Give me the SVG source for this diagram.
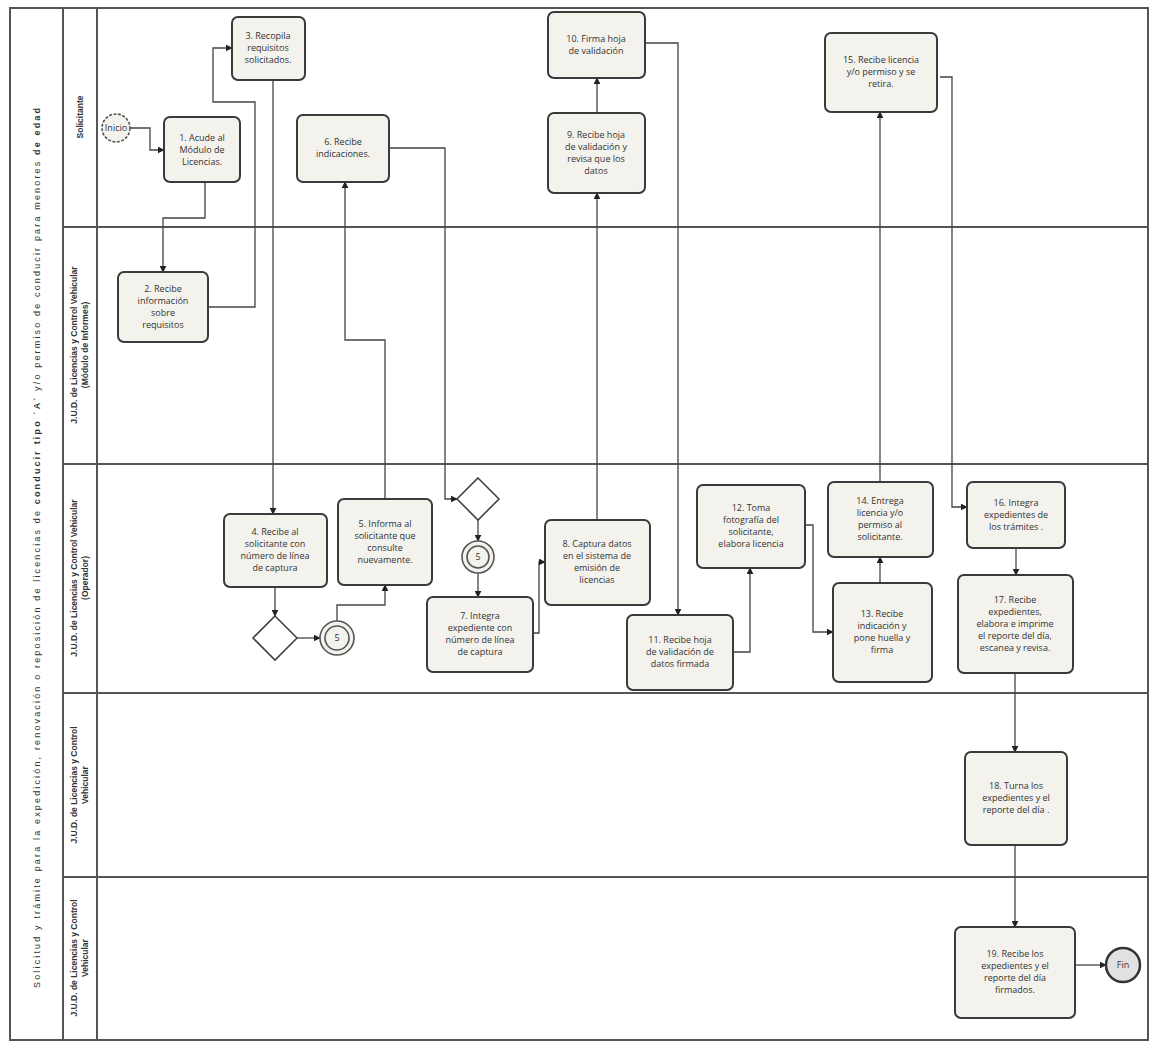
<svg xmlns="http://www.w3.org/2000/svg" width="1152" height="1051" viewBox="0 0 1152 1051">
<defs>
<style>
.frame{fill:none;stroke:#555;stroke-width:2}
.lane{stroke:#555;stroke-width:2}
.box{fill:#f3f2ed;stroke:#3a3a3a;stroke-width:2}
.bt{font-family:"Open Sans","Liberation Sans",sans-serif;font-size:9px;fill:#333;text-anchor:middle}
.lt{font-family:"Liberation Sans",sans-serif;font-size:8.5px;fill:#333;text-anchor:middle;font-weight:bold}
.tt{font-family:"Liberation Sans",sans-serif;font-size:9px;fill:#333;text-anchor:middle}
.con{fill:none;stroke:#444;stroke-width:1.3;marker-end:url(#arr)}
.gw{fill:#fff;stroke:#444;stroke-width:1.6}
.ev{fill:#f3f2ed;stroke:#555;stroke-width:1.6}
</style>
<marker id="arr" viewBox="0 0 10 10" refX="9" refY="5" markerWidth="7" markerHeight="7" markerUnits="userSpaceOnUse" orient="auto">
<path d="M0,0 L10,5 L0,10 z" fill="#222"/>
</marker>
</defs>
<rect width="1152" height="1051" fill="#fff"/>
<g id="pool">
<rect class="frame" x="10" y="8" width="1138" height="1032"/>
<line class="lane" x1="63" y1="8" x2="63" y2="1040"/>
<line class="lane" x1="97" y1="8" x2="97" y2="1040"/>
<line class="lane" x1="63" y1="227" x2="1148" y2="227"/>
<line class="lane" x1="63" y1="464" x2="1148" y2="464"/>
<line class="lane" x1="63" y1="693" x2="1148" y2="693"/>
<line class="lane" x1="63" y1="877" x2="1148" y2="877"/>
<text class="tt" transform="translate(40,548) rotate(-90)" textLength="880" lengthAdjust="spacing">Solicitud y trámite para la expedición, renovación o reposición de licencias de <tspan font-weight="bold">conducir tipo ´A´</tspan> y/o permiso de conducir para menores <tspan font-weight="bold">de edad</tspan></text>
<text class="lt" transform="translate(83,117) rotate(-90)">Solicitante</text>
<text class="lt" transform="translate(80,345) rotate(-90)"><tspan x="0" y="-3">J.U.D. de Licencias y Control Vehicular</tspan><tspan x="0" y="8">(Módulo de Informes)</tspan></text>
<text class="lt" transform="translate(80,578) rotate(-90)"><tspan x="0" y="-3">J.U.D. de Licencias y Control Vehicular</tspan><tspan x="0" y="8">(Operador)</tspan></text>
<text class="lt" transform="translate(80,785) rotate(-90)"><tspan x="0" y="-3">J.U.D. de Licencias y Control</tspan><tspan x="0" y="8">Vehicular</tspan></text>
<text class="lt" transform="translate(80,958) rotate(-90)"><tspan x="0" y="-3">J.U.D. de Licencias y Control</tspan><tspan x="0" y="8">Vehicular</tspan></text>
</g>
<g id="connectors">
<path class="con" d="M130,128 H150 V150 H164"/>
<path class="con" d="M205,182 V218 H163 V272"/>
<path class="con" d="M208,307 H255 V102 H213 V48 H232"/>
<path class="con" d="M273,80 V514"/>
<path class="con" d="M275,587 V616"/>
<path class="con" d="M297,638 H320"/>
<path class="con" d="M337,621 V605 H385 V585"/>
<path class="con" d="M385,499 V340 H345 V182"/>
<path class="con" d="M389,148 H445 V499 H457"/>
<path class="con" d="M478,520 V541"/>
<path class="con" d="M478,573 V597"/>
<path class="con" d="M533,633 H539 V562 H545"/>
<path class="con" d="M597,520 V193"/>
<path class="con" d="M597,113 V78"/>
<path class="con" d="M645,43 H678 V615"/>
<path class="con" d="M733,652 H750 V568"/>
<path class="con" d="M805,525 H813 V632 H833"/>
<path class="con" d="M880,583 V557"/>
<path class="con" d="M880,482 V112"/>
<path class="con" d="M940,77 H952 V507 H967"/>
<path class="con" d="M1016,548 V575"/>
<path class="con" d="M1015,673 V752"/>
<path class="con" d="M1015,845 V927"/>
<path class="con" d="M1075,965 H1106"/>
</g>
<g id="inicio">
<circle class="ev" cx="116" cy="128" r="14" stroke-dasharray="3,1.5"/>
<text class="bt" x="116" y="130.5" font-size="7">Inicio</text>
</g>
<g id="n1"><rect class="box" x="164" y="117" width="76" height="65" rx="6"/>
<text class="bt"><tspan x="202" y="141">1. Acude al</tspan><tspan x="202" y="153">Módulo de</tspan><tspan x="202" y="165">Licencias.</tspan></text></g>
<g id="n2"><rect class="box" x="118" y="272" width="90" height="70" rx="6"/>
<text class="bt"><tspan x="163" y="292">2. Recibe</tspan><tspan x="163" y="304">información</tspan><tspan x="163" y="316">sobre</tspan><tspan x="163" y="328">requisitos</tspan></text></g>
<g id="n3"><rect class="box" x="232" y="17" width="73" height="63" rx="6"/>
<text class="bt"><tspan x="268" y="39">3. Recopila</tspan><tspan x="268" y="51">requisitos</tspan><tspan x="268" y="63">solicitados.</tspan></text></g>
<g id="n4"><rect class="box" x="224" y="514" width="103" height="73" rx="6"/>
<text class="bt"><tspan x="275" y="535">4. Recibe al</tspan><tspan x="275" y="547">solicitante con</tspan><tspan x="275" y="559">número de línea</tspan><tspan x="275" y="571">de captura</tspan></text></g>
<g id="g1"><path class="gw" d="M275,616 L297,638 L275,660 L253,638 z"/></g>
<g id="link1"><circle class="ev" cx="337" cy="638" r="17"/><circle class="ev" cx="337" cy="638" r="12"/>
<text class="bt" x="337" y="641">5</text></g>
<g id="n5"><rect class="box" x="338" y="499" width="94" height="86" rx="6"/>
<text class="bt"><tspan x="385" y="527">5. Informa al</tspan><tspan x="385" y="539">solicitante que</tspan><tspan x="385" y="551">consulte</tspan><tspan x="385" y="563">nuevamente.</tspan></text></g>
<g id="n6"><rect class="box" x="297" y="115" width="92" height="67" rx="6"/>
<text class="bt"><tspan x="343" y="145">6. Recibe</tspan><tspan x="343" y="157">indicaciones.</tspan></text></g>
<g id="g2"><path class="gw" d="M478,478 L499,499 L478,520 L457,499 z"/></g>
<g id="link2"><circle class="ev" cx="478" cy="557" r="16"/><circle class="ev" cx="478" cy="557" r="11"/>
<text class="bt" x="478" y="560">5</text></g>
<g id="n7"><rect class="box" x="427" y="597" width="106" height="75" rx="6"/>
<text class="bt"><tspan x="480" y="619">7. Integra</tspan><tspan x="480" y="631">expediente con</tspan><tspan x="480" y="643">número de línea</tspan><tspan x="480" y="655">de captura</tspan></text></g>
<g id="n8"><rect class="box" x="545" y="520" width="105" height="85" rx="6"/>
<text class="bt"><tspan x="597" y="547">8. Captura datos</tspan><tspan x="597" y="559">en el sistema de</tspan><tspan x="597" y="571">emisión de</tspan><tspan x="597" y="583">licencias</tspan></text></g>
<g id="n9"><rect class="box" x="548" y="113" width="97" height="80" rx="6"/>
<text class="bt"><tspan x="596" y="138">9. Recibe hoja</tspan><tspan x="596" y="150">de validación y</tspan><tspan x="596" y="162">revisa que los</tspan><tspan x="596" y="174">datos</tspan></text></g>
<g id="n10"><rect class="box" x="548" y="12" width="97" height="66" rx="6"/>
<text class="bt"><tspan x="596" y="42">10. Firma hoja</tspan><tspan x="596" y="54">de validación</tspan></text></g>
<g id="n11"><rect class="box" x="627" y="615" width="106" height="75" rx="6"/>
<text class="bt"><tspan x="680" y="643">11. Recibe hoja</tspan><tspan x="680" y="655">de validación de</tspan><tspan x="680" y="667">datos firmada</tspan></text></g>
<g id="n12"><rect class="box" x="697" y="485" width="108" height="83" rx="6"/>
<text class="bt"><tspan x="751" y="511">12. Toma</tspan><tspan x="751" y="523">fotografía del</tspan><tspan x="751" y="535">solicitante,</tspan><tspan x="751" y="547">elabora licencia</tspan></text></g>
<g id="n13"><rect class="box" x="833" y="583" width="99" height="99" rx="6"/>
<text class="bt"><tspan x="882" y="617">13. Recibe</tspan><tspan x="882" y="629">indicación y</tspan><tspan x="882" y="641">pone huella y</tspan><tspan x="882" y="653">firma</tspan></text></g>
<g id="n14"><rect class="box" x="828" y="482" width="105" height="75" rx="6"/>
<text class="bt"><tspan x="880" y="504">14. Entrega</tspan><tspan x="880" y="516">licencia y/o</tspan><tspan x="880" y="528">permiso al</tspan><tspan x="880" y="540">solicitante.</tspan></text></g>
<g id="n15"><rect class="box" x="825" y="33" width="112" height="79" rx="6"/>
<text class="bt"><tspan x="881" y="63">15. Recibe licencia</tspan><tspan x="881" y="75">y/o permiso y se</tspan><tspan x="881" y="87">retira.</tspan></text></g>
<g id="n16"><rect class="box" x="967" y="482" width="98" height="66" rx="6"/>
<text class="bt"><tspan x="1016" y="506">16. Integra</tspan><tspan x="1016" y="518">expedientes de</tspan><tspan x="1016" y="530">los trámites .</tspan></text></g>
<g id="n17"><rect class="box" x="958" y="575" width="115" height="98" rx="6"/>
<text class="bt"><tspan x="1015" y="603">17. Recibe</tspan><tspan x="1015" y="615">expedientes,</tspan><tspan x="1015" y="627">elabora e imprime</tspan><tspan x="1015" y="639">el reporte del día,</tspan><tspan x="1015" y="651">escanea y revisa.</tspan></text></g>
<g id="n18"><rect class="box" x="965" y="752" width="102" height="93" rx="6"/>
<text class="bt"><tspan x="1016" y="789">18. Turna los</tspan><tspan x="1016" y="801">expedientes y el</tspan><tspan x="1016" y="813">reporte del día .</tspan></text></g>
<g id="n19"><rect class="box" x="955" y="927" width="120" height="91" rx="6"/>
<text class="bt"><tspan x="1015" y="957">19. Recibe los</tspan><tspan x="1015" y="969">expedientes y el</tspan><tspan x="1015" y="981">reporte del día</tspan><tspan x="1015" y="993">firmados.</tspan></text></g>
<g id="fin"><circle cx="1123" cy="965" r="17" fill="#e2e0e0" stroke="#333" stroke-width="2.5"/>
<text class="bt" x="1123" y="968">Fin</text></g>
</svg>
